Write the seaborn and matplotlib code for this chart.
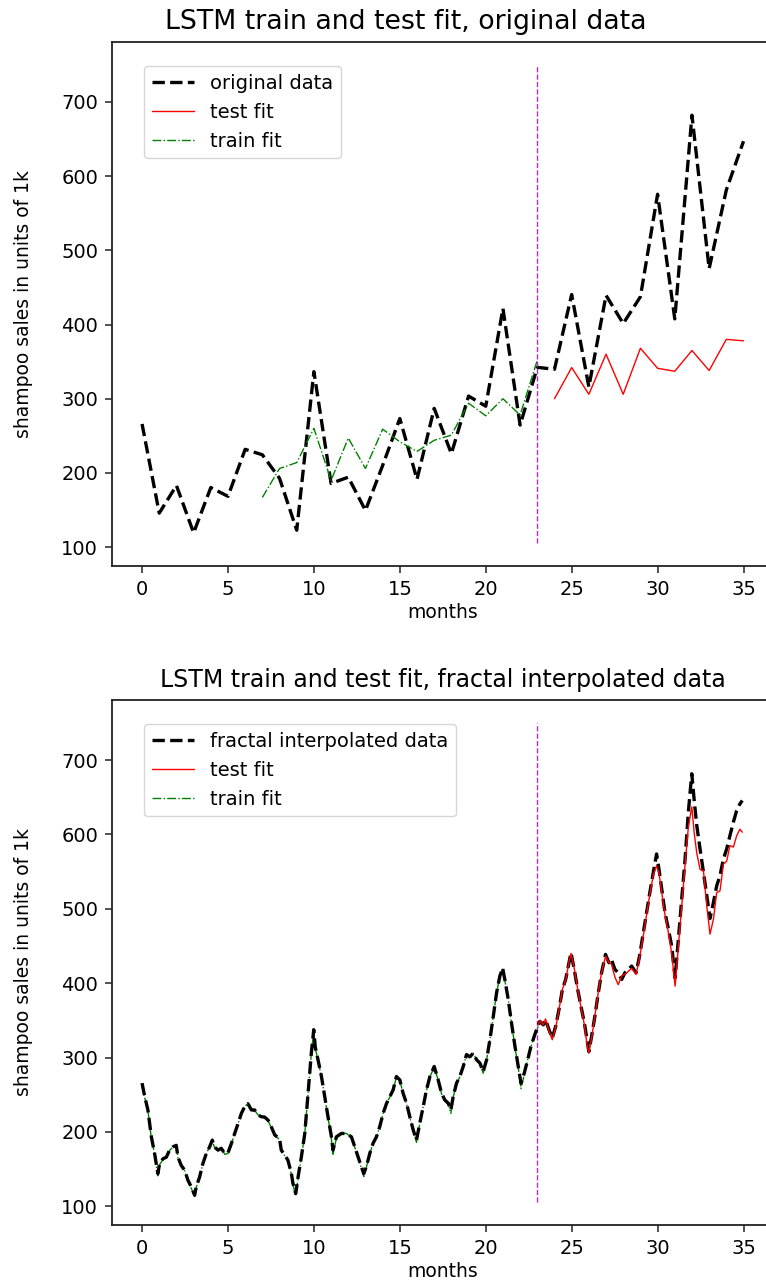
import matplotlib
matplotlib.use("Agg")
import matplotlib.pyplot as plt
import seaborn as sns
import numpy as np

# ---------------- data ----------------
months = list(range(36))
original_sales = [266.0, 145.9, 183.1, 119.3, 180.3, 168.5, 231.8, 224.5, 192.8, 122.9,
                  336.5, 185.9, 194.3, 149.5, 210.1, 273.3, 191.4, 287.0, 226.0, 303.6,
                  289.9, 421.6, 264.5, 342.3, 339.7, 440.4, 315.9, 439.3, 401.3, 437.4,
                  575.5, 407.6, 682.0, 475.3, 581.3, 646.9]

train_months = list(range(7, 24))
train_fit = [167, 206, 214, 260, 190, 247, 206, 259, 242, 229, 244, 251, 294, 277, 300, 278, 352]

test_months = list(range(24, 36))
test_fit = [300, 342, 306, 360, 306, 368, 341, 337, 365, 338, 380, 378]

frac_x = [0.00, 0.15, 0.34, 0.54, 0.73, 0.92, 1.02, 1.22, 1.41, 1.60, 1.80, 1.99, 2.09, 2.28,
          2.48, 2.67, 2.87, 3.06, 3.15, 3.35, 3.54, 3.74, 3.93, 4.09, 4.20, 4.42, 4.61, 4.81,
          5.00, 5.20, 5.39, 5.59, 5.78, 5.97, 6.16, 6.36, 6.55, 6.75, 6.94, 7.13, 7.33, 7.52,
          7.72, 8.00, 8.10, 8.30, 8.49, 8.69, 8.78, 8.94, 9.08, 9.27, 9.47, 9.66, 9.85, 9.99,
          10.08, 10.24, 10.44, 10.63, 10.82, 11.02, 11.11, 11.31, 11.60, 11.89, 12.18, 12.38,
          12.57, 12.77, 12.90, 13.05, 13.25, 13.44, 13.64, 13.83, 14.03, 14.22, 14.42, 14.61,
          14.80, 15.00, 15.19, 15.39, 15.58, 15.78, 15.97, 16.16, 16.36, 16.55, 16.75, 17.00,
          17.23, 17.43, 17.62, 17.82, 17.97, 18.11, 18.30, 18.49, 18.69, 18.88, 19.08, 19.27,
          19.47, 19.66, 19.85, 20.05, 20.24, 20.44, 20.63, 20.82, 20.98, 21.11, 21.31, 21.50,
          21.70, 21.89, 22.05, 22.24, 22.44, 22.63, 22.82, 23.05, 23.15, 23.35, 23.48, 23.68,
          23.87, 24.07, 24.26, 24.46, 24.65, 24.84, 24.96, 25.15, 25.35, 25.54, 25.74, 25.89,
          26.00, 26.16, 26.35, 26.55, 26.74, 26.97, 27.17, 27.31, 27.52, 27.71, 27.91, 28.10,
          28.30, 28.49, 28.75, 28.95, 29.14, 29.36, 29.55, 29.75, 29.94, 30.08, 30.24, 30.43,
          30.63, 30.82, 31.02, 31.21, 31.41, 31.60, 31.79, 31.99, 32.14, 32.28, 32.47, 32.67,
          32.86, 33.05, 33.25, 33.44, 33.63, 33.83, 34.02, 34.21, 34.41, 34.60, 34.79, 34.93]
frac_y = [265.6, 248, 229.6, 193.5, 171, 144, 157.6, 164, 166, 175.6, 180, 182, 166, 155,
          148.6, 135, 126, 115, 126, 139.5, 157.6, 171, 180, 189, 180, 175.6, 178, 171,
          172, 184.6, 198, 211.6, 225, 234, 238, 229.6, 229.6, 223, 220.5, 220, 216, 207,
          196, 191, 175.6, 169, 162, 144, 131, 117, 139.5, 166.5, 198, 252, 306, 337.5,
          314, 297, 274.5, 247.5, 220.5, 193.5, 175.6, 193.5, 198, 198, 193.5, 180,
          166.5, 153, 144, 153, 171, 184.6, 193.5, 207, 225, 238, 247.5, 256.5,
          274.5, 270, 252, 238.6, 220.5, 202.6, 189, 211.6, 234, 256.5, 274.5, 288,
          270, 252, 243, 238.6, 229.6, 248, 265.6, 274.5, 288, 304, 301, 306,
          297, 292.6, 281, 297, 324, 355.5, 387, 409.5, 420.7, 405, 378, 346.5,
          315, 288, 265.6, 279, 297, 315, 328.5, 344, 348.7, 344, 351, 337.5,
          326, 342, 364.5, 391.5, 405, 427.5, 441, 418.5, 391.5, 369, 346.5, 324,
          308, 328.5, 355.5, 387, 414, 438.7, 427.5, 432, 418.5, 414, 405, 414,
          418.5, 423, 414, 436.5, 463.5, 495, 522, 549, 573.7, 553.4, 526.5, 495,
          472.5, 450, 407, 459, 513, 567, 630, 681.6, 643.5, 612, 580.4, 549,
          517.5, 487, 508.5, 531, 544.4, 567, 580.4, 598.4, 616.5, 632, 641, 645.6]

frac_train_y = [265.6, 247, 229, 192, 170, 141, 156, 163, 166, 175, 180, 182, 165, 154,
                148, 134, 124, 112, 125, 139, 157, 171, 180, 188, 180, 175, 178, 170,
                171, 184, 198, 211, 225, 234, 238, 229, 229, 223, 220, 219, 215, 206,
                195, 190, 175, 168, 161, 143, 129, 114, 138, 166, 198, 252, 306, 335,
                313, 296, 274, 247, 220, 190, 170, 192, 198, 198, 193, 179,
                165, 151, 140, 152, 171, 184, 193, 207, 225, 238, 247, 256,
                274, 270, 251, 238, 220, 201, 186, 211, 234, 256, 274, 287,
                270, 251, 242, 237, 225, 247, 265, 274, 288, 304, 301, 306,
                297, 292, 279, 297, 324, 355, 387, 409, 419, 404, 378, 346,
                314, 287, 258, 277, 297, 315, 328, 342]
frac_train_x = frac_x[:len(frac_train_y)]

frac_test_x = [23.05, 23.15, 23.35, 23.48, 23.68, 23.87, 24.07, 24.26, 24.46, 24.65, 24.84,
               24.96, 25.15, 25.35, 25.54, 25.74, 25.89, 26.00, 26.16, 26.35, 26.55, 26.74,
               26.97, 27.17, 27.31, 27.52, 27.71, 27.91, 28.10, 28.30, 28.49, 28.75, 28.95,
               29.14, 29.36, 29.55, 29.75, 29.94, 30.08, 30.24, 30.43, 30.63, 30.82, 31.02,
               31.21, 31.41, 31.60, 31.79, 31.99, 32.14, 32.28, 32.47, 32.67, 32.86, 33.05,
               33.25, 33.44, 33.63, 33.83, 34.02, 34.21, 34.41, 34.60, 34.79, 34.93]
frac_test_y = [344, 350, 344, 352, 336, 324, 340, 364, 392, 404, 428,
               440, 420, 392, 368, 344, 318, 306, 326, 356, 388, 414,
               436, 428, 426, 408, 398, 410, 412, 416, 420, 412, 434,
               460, 492, 520, 545, 558, 548, 522, 492, 468, 440, 396,
               450, 505, 560, 610, 637, 600, 575, 553, 551, 504, 466,
               486, 522, 524, 560, 564, 585, 583, 598, 607, 603]

split_month = 23
vline_range = (106, 750)
x_ticks = [0, 5, 10, 15, 20, 25, 30, 35]
y_ticks = [100, 200, 300, 400, 500, 600, 700]

# ---------------- style ----------------
sns.set_theme(style="ticks")
plt.rcParams["font.family"] = ["DejaVu Sans"]
plt.rcParams["text.color"] = "black"
plt.rcParams["axes.labelcolor"] = "black"
plt.rcParams["xtick.color"] = "black"
plt.rcParams["ytick.color"] = "black"
FS = 14

fig = plt.figure(figsize=(7.66, 12.84), dpi=100)
ax1 = fig.add_axes([0.1462, 0.5594, 0.8637, 0.4081])
ax2 = fig.add_axes([0.1462, 0.0460, 0.8637, 0.4090])


def style_axes(ax, title, title_size, title_x):
    ax.set_xlim(-1.75, 36.75)
    ax.set_ylim(75, 781)
    ax.set_xticks(x_ticks)
    ax.set_yticks(y_ticks)
    ax.tick_params(labelsize=FS, length=5, width=1.1, pad=5, color="#222222")
    for sp in ax.spines.values():
        sp.set_color("#222222")
        sp.set_linewidth(1.3)
    ax.set_title(title, fontsize=title_size, pad=9, x=title_x)
    ax.set_xlabel("months", fontsize=13.5, labelpad=3)
    ax.set_ylabel("shampoo sales in units of 1k", fontsize=13.5, labelpad=20)
    ax.legend(loc="upper left", bbox_to_anchor=(0.048, 0.953), borderaxespad=0,
              fontsize=14, frameon=True, handlelength=2.2)


# top chart
sns.lineplot(x=months, y=original_sales, ax=ax1, color="black", linestyle="--",
             linewidth=2.4, label="original data")
sns.lineplot(x=test_months, y=test_fit, ax=ax1, color="red", linestyle="-",
             linewidth=1.0, label="test fit")
sns.lineplot(x=train_months, y=train_fit, ax=ax1, color="green", linestyle="-.",
             linewidth=1.0, label="train fit")
ax1.vlines(split_month, vline_range[0], vline_range[1], colors="#b030c0",
           linestyles="--", linewidth=1.0)
style_axes(ax1, "LSTM train and test fit, original data", 19.3, 0.444)

# bottom chart
sns.lineplot(x=frac_x, y=frac_y, ax=ax2, color="black", linestyle="--",
             linewidth=2.4, label="fractal interpolated data", zorder=3)
sns.lineplot(x=frac_test_x, y=frac_test_y, ax=ax2, color="red", linestyle="-",
             linewidth=1.0, label="test fit", zorder=4)
sns.lineplot(x=frac_train_x, y=frac_train_y, ax=ax2, color="green", linestyle="-.",
             linewidth=1.0, label="train fit", zorder=2)
ax2.vlines(split_month, vline_range[0], vline_range[1], colors="#b030c0",
           linestyles="--", linewidth=1.0)
style_axes(ax2, "LSTM train and test fit, fractal interpolated data", 17, 0.5)

fig.savefig("out.png", dpi=100)
